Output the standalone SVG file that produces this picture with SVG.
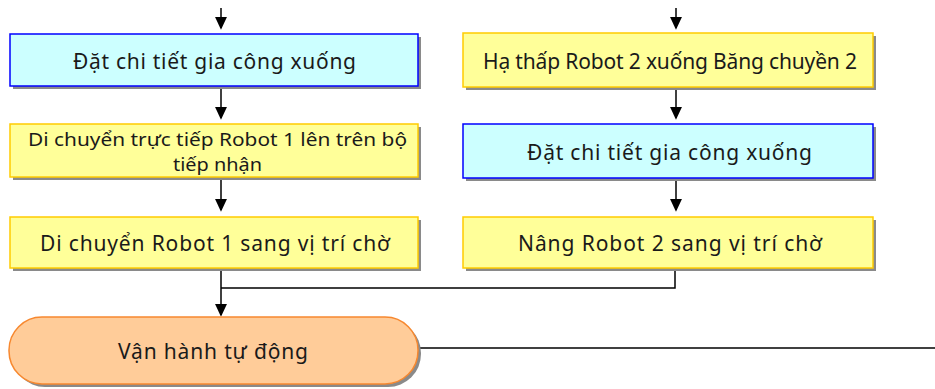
<svg xmlns="http://www.w3.org/2000/svg" width="935" height="389" viewBox="0 0 935 389">
<defs>
<marker id="ah" markerWidth="13" markerHeight="15" refX="13" refY="7" orient="auto" markerUnits="userSpaceOnUse" viewBox="0 0 15 14">
<path d="M0,0 L15,7 L0,14 Z" fill="#000"/>
</marker>
<style>
.sh{fill:#8a8a8a}
.blue{fill:#CCFFFF;stroke:#0000FF;stroke-width:1.5}
.yel{fill:#FFFF99;stroke:#FFCC00;stroke-width:1.5}
.term{fill:#FFCC99;stroke:#F7882F;stroke-width:1.5}
.t{font-family:"Noto Sans","Open Sans",sans-serif;font-size:21px;fill:#1a1a1a;text-anchor:middle}
.t2{font-size:18px}
.c{fill:none;stroke:#000;stroke-width:1.5}
.ca{fill:none;stroke:#000;stroke-width:1.5;marker-end:url(#ah)}
</style>
</defs>
<g id="connectors">
<path class="ca" d="M221,8 V28"/>
<path class="ca" d="M221,86 V118"/>
<path class="ca" d="M221,177 V210"/>
<path class="ca" d="M221,268 V315"/>
<path class="c" d="M675,268 V288 H221"/>
<path class="ca" d="M676,8 V28"/>
<path class="ca" d="M676,87 V118"/>
<path class="ca" d="M676,178 V210"/>
<path class="c" d="M418,348 H935"/>
</g>
<g id="L1">
<rect class="sh" x="13" y="37" width="408" height="52"/>
<rect class="blue" x="10" y="34" width="408" height="52"/>
<text class="t" x="214.5" y="69" textLength="283">Đặt chi tiết gia công xuống</text>
</g>
<g id="L2">
<rect class="sh" x="13" y="127" width="408" height="53"/>
<rect class="yel" x="10" y="124" width="408" height="53"/>
<text class="t t2" x="217.5" y="146" textLength="379" lengthAdjust="spacingAndGlyphs">Di chuyển trực tiếp Robot 1 lên trên bộ</text>
<text class="t t2" x="217.5" y="171" textLength="89" lengthAdjust="spacingAndGlyphs">tiếp nhận</text>
</g>
<g id="L3">
<rect class="sh" x="13" y="220" width="408" height="51"/>
<rect class="yel" x="10" y="217" width="408" height="51"/>
<text class="t" x="215" y="251" textLength="350">Di chuyển Robot 1 sang vị trí chờ</text>
</g>
<g id="R1">
<rect class="sh" x="466" y="36" width="410" height="54"/>
<rect class="yel" x="463" y="33" width="410" height="54"/>
<text class="t" x="670" y="69" textLength="374">Hạ thấp Robot 2 xuống Băng chuyền 2</text>
</g>
<g id="R2">
<rect class="sh" x="466" y="127" width="410" height="54"/>
<rect class="blue" x="463" y="124" width="410" height="54"/>
<text class="t" x="669.5" y="160" textLength="285">Đặt chi tiết gia công xuống</text>
</g>
<g id="R3">
<rect class="sh" x="466" y="220" width="410" height="51"/>
<rect class="yel" x="463" y="217" width="410" height="51"/>
<text class="t" x="670" y="251" textLength="304">Nâng Robot 2 sang vị trí chờ</text>
</g>
<g id="T">
<rect class="sh" x="12" y="320" width="409" height="67" rx="33"/>
<rect class="term" x="9" y="317" width="409" height="67" rx="33"/>
<text class="t" x="213" y="359" textLength="190">Vận hành tự động</text>
</g>
</svg>
